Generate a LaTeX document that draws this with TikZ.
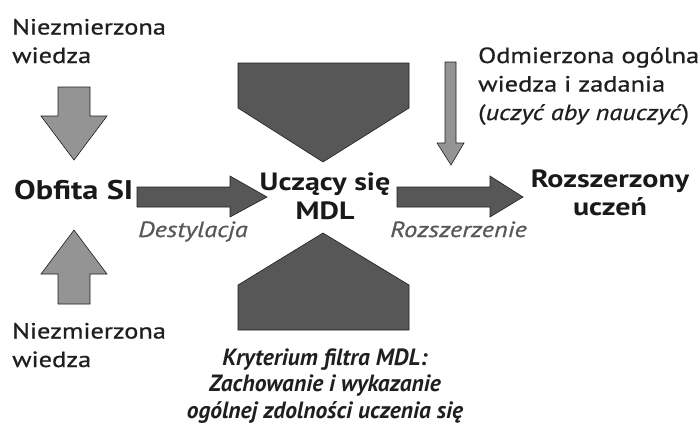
\documentclass[tikz,border=0pt]{standalone}
\usepackage{fontspec}
\setmainfont{PT Sans}[FakeStretch=1.2,
    UprightFeatures={FakeBold=0.7}, ItalicFeatures={FakeBold=0.7}]
\newfontfamily\notefont{PT Sans}
\usetikzlibrary{positioning}
\tikzset{
    mdl diagram/.style = {x=1pt, y=-1pt, line join=miter},
    heavy shape/.style = {draw=black!88, semithick, fill=black!66},
    light shape/.style = {draw=black!88, semithick, fill=black!42},
    plain text/.style  = {inner sep=0pt, text=black!88, align=left,
                          font=\fontsize{22}{28.5}\selectfont},
    title text/.style  = {inner sep=0pt, text=black!90, align=center,
                          font=\fontsize{25}{28}\selectfont\bfseries},
    step text/.style   = {inner sep=0pt, text=black!66,
                          font=\fontsize{22}{26}\selectfont\itshape},
    note text/.style   = {inner sep=0pt, text=black!88, align=center,
                          font=\notefont\fontsize{23.5}{26.5}\selectfont\bfseries\itshape}
}

\begin{document}
\begin{tikzpicture}[mdl diagram]
\useasboundingbox (0,0) rectangle (700,423);

% ================= Teacher and unmeasured knowledge =================
\node[plain text, anchor=base west] (top knowledge) at (12,63) {Niezmierzona\\wiedza};
\node[plain text, anchor=base west] (bottom knowledge) at (12,367) {Niezmierzona\\wiedza};
\node[title text, anchor=base west, font=\fontsize{27}{30}\selectfont\bfseries]
    (teacher) at (14,199) {Obfita SI};

\draw[light shape] (58,87) -- (90,87) -- (90,116) -- (107,116) -- (74,160)
    -- (41,116) -- (58,116) -- cycle;
\draw[light shape] (58,304) -- (90,304) -- (90,274) -- (107,274) -- (74,230)
    -- (41,274) -- (58,274) -- cycle;

% ================= MDL learner and its filter =================
\node[title text, anchor=base, font=\fontsize{25}{29}\selectfont\bfseries]
    (learner) at (325,219) {Uczący się\\MDL};
\draw[heavy shape] (238,63) -- (409,63) -- (409,108) -- (323,162) -- (238,108) -- cycle;
\draw[heavy shape] (238,330) -- (409,330) -- (409,285) -- (323,233) -- (238,285) -- cycle;
\node[note text, anchor=base] (criterion) at (325,418)
    {Kryterium filtra MDL:\\Zachowanie i wykazanie\\ogólnej zdolności uczenia się};

% ================= Distillation =================
\draw[heavy shape] (137,187) -- (230,187) -- (230,176) -- (267,197) -- (230,217)
    -- (230,207) -- (137,207) -- cycle;
\node[step text, anchor=base west] (distil) at (138,237) {Destylacja};

% ================= Extension =================
\draw[heavy shape] (397,187) -- (490,187) -- (490,176) -- (523,197) -- (490,217)
    -- (490,207) -- (397,207) -- cycle;
\node[step text, anchor=base west] (extend) at (390,237) {Rozszerzenie};
\node[title text, anchor=base] (extended) at (610,215) {Rozszerzony\\uczeń};

% ================= Measured general knowledge =================
\node[plain text, anchor=base west] (measured) at (478,120)
    {Odmierzona ogólna\\wiedza i zadania\\(\textit{uczyć aby nauczyć})};
\draw[light shape] (445,62) -- (456,62) -- (456,143) -- (464,143) -- (451,165)
    -- (437,143) -- (445,143) -- cycle;

\end{tikzpicture}
\end{document}
